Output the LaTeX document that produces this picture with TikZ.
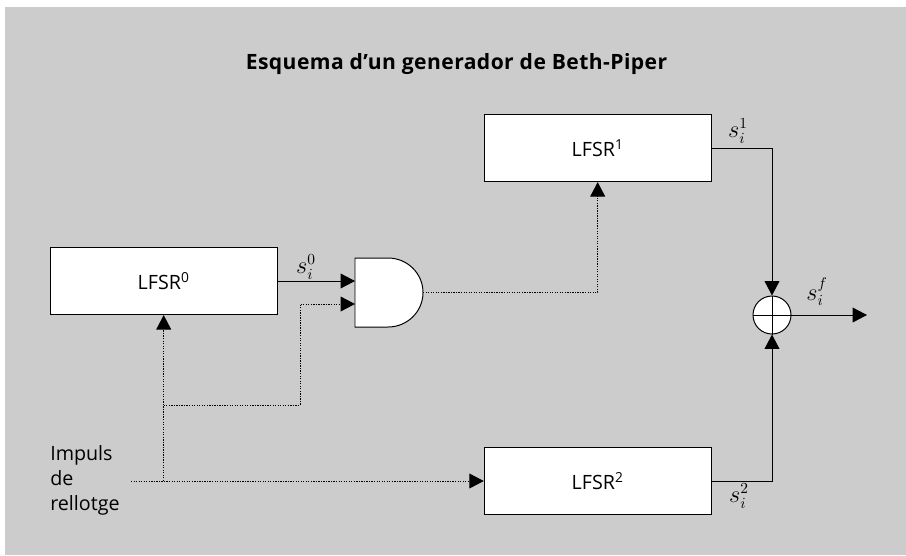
\documentclass[tikz,border=0pt]{standalone}
\usepackage{amsmath,amssymb}
\usepackage{fontspec}
\setmainfont{Open Sans}
\usepackage{tikz}
\usetikzlibrary{arrows.meta}
\definecolor{fons}{gray}{0.8}
\tikzset{
    lfsr/.style={draw,fill=white,line width=0.7pt,minimum width=5.67cm,minimum height=1.68cm,inner sep=0pt,font=\fontsize{14}{14}\selectfont},
    fil/.style={line width=0.7pt},
    punts/.style={line width=0.7pt,dash pattern=on 0.9pt off 0.9pt},
    fletxa/.style={-{Triangle[length=0.36cm,width=0.37cm]}},
    etiq/.style={inner sep=0pt,font=\fontsize{16}{16}\selectfont}
}
\begin{document}
\begin{tikzpicture}[x=0.025cm,y=-0.025cm]
    \useasboundingbox (0,0) rectangle (906,555);
    \fill[fons] (5,7) rectangle (906,555);
    \node[anchor=base,inner sep=0pt,font=\fontsize{15}{15}\selectfont\bfseries\addfontfeatures{LetterSpace=2}] (titol) at (456.5,69) {Esquema d'un generador de Beth-Piper};
    % registres
    \node[lfsr] (lfsr0) at (163.7,281) {LFSR\textsuperscript{0}};
    \node[lfsr] (lfsr1) at (597.7,148) {LFSR\textsuperscript{1}};
    \node[lfsr] (lfsr2) at (597.7,481) {LFSR\textsuperscript{2}};
    % porta AND
    \draw[fil,fill=white] (355,258) -- (388,258) arc[start angle=90,end angle=-90,x radius=35,y radius=-34.5] -- (355,327) -- cycle;
    \coordinate (iA) at (355,281);
    \coordinate (iB) at (355,304);
    \coordinate (oA) at (423,292.5);
    % suma
    \node[circle,draw,fill=white,line width=0.7pt,minimum size=0.95cm,inner sep=0pt] (xor) at (772,315) {};
    \draw[fil] (xor.north) -- (xor.south);
    \draw[fil] (xor.west) -- (xor.east);
    \coordinate (sortida) at (867,315);
    % rellotge
    \node[anchor=north west,inner sep=0pt,align=left,font=\fontsize{14}{17.7}\selectfont] (impuls) at (50,445) {Impuls\\de\\rellotge};
    \coordinate (ini) at (131,481);
    \coordinate (nus) at (lfsr0.south |- ini);
    \coordinate (nusb) at (lfsr0.south |- 0,405);
    % connexions
    \draw[fil,fletxa] (lfsr0.east |- iA) -- (iA);
    \draw[punts,fletxa] (nusb) -| (300,304) -- (iB);
    \draw[punts,fletxa] (oA) -| (lfsr1.south);
    \draw[punts,fletxa] (ini) -- (lfsr2.west);
    \draw[punts,fletxa] (nus) -- (lfsr0.south);
    \draw[fil,fletxa] (lfsr1.east) -| (xor.north);
    \draw[fil,fletxa] (lfsr2.east) -| (xor.south);
    \draw[fil,fletxa] (xor.east) -- (sortida);
    % etiquetes
    \node[etiq] (s0) at (306,267) {$s_i^0$};
    \node[etiq] (s1) at (738,131) {$s_i^1$};
    \node[etiq] (s2) at (739,496) {$s_i^2$};
    \node[etiq] (sf) at (817,292) {$s_i^f$};
\end{tikzpicture}
\end{document}
